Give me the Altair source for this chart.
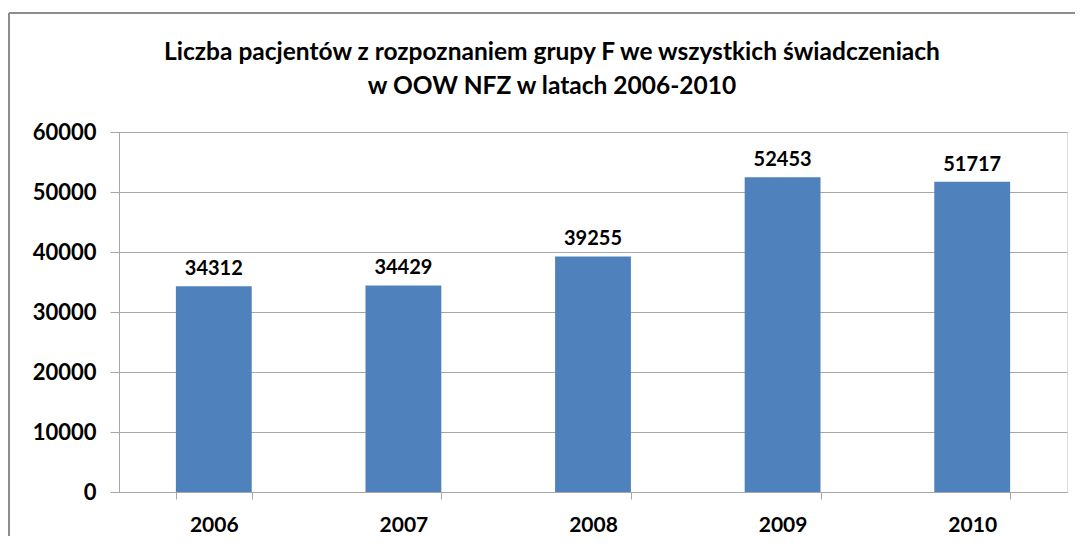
import altair as alt
import pandas as pd

years = ["2006", "2007", "2008", "2009", "2010"]
patients = [34312, 34429, 39255, 52453, 51717]
y_ticks = [0, 10000, 20000, 30000, 40000, 50000, 60000]
title_lines = [
    "Liczba pacjentów z rozpoznaniem grupy F we wszystkich świadczeniach",
    "w OOW NFZ w latach 2006-2010",
]

df = pd.DataFrame({"year": years, "value": patients})

FONT = "Lato"
GRID = "#a6a6a6"

x_enc = alt.X(
    "year:N",
    sort=years,
    scale=alt.Scale(paddingInner=0.6, paddingOuter=0.3),
    axis=alt.Axis(
        title=None,
        labelAngle=0,
        labelFont=FONT,
        labelFontSize=21,
        labelFontWeight="bold",
        labelColor="#000000",
        labelPadding=15,
        tickBand="extent",
        tickSize=7,
        tickColor=GRID,
        domainColor=GRID,
        grid=False,
    ),
)
y_enc = alt.Y(
    "value:Q",
    scale=alt.Scale(domain=[0, 60000], nice=False),
    axis=alt.Axis(
        title=None,
        values=y_ticks,
        format="d",
        labelFont=FONT,
        labelFontSize=22,
        labelFontWeight="bold",
        labelColor="#000000",
        labelPadding=14,
        tickSize=9,
        tickColor=GRID,
        domainColor=GRID,
        gridColor=GRID,
        gridWidth=1.2,
    ),
)

base = alt.Chart(df)
bars = base.mark_bar(color="#4f81bd").encode(x=x_enc, y=y_enc)
labels = base.mark_text(
    baseline="bottom", dy=-7, font=FONT, fontSize=20, fontWeight="bold", color="#000000"
).encode(x=alt.X("year:N", sort=years), y="value:Q", text=alt.Text("value:Q", format="d"))

frame_top = alt.Chart(df).mark_rule(color="#8c8c8c", strokeWidth=2, clip=False).encode(
    x=alt.value(-110), x2=alt.value(1100), y=alt.value(-119)
)
frame_left = alt.Chart(df).mark_rule(color="#8c8c8c", strokeWidth=2, clip=False).encode(
    x=alt.value(-110), y=alt.value(-119), y2=alt.value(500)
)

chart = (
    alt.layer(frame_top, frame_left, bars, labels)
    .properties(
        width=948,
        height=360,
        padding={"left": 111, "top": 124, "right": 8, "bottom": 44},
        autosize=alt.AutoSizeParams(type="none"),
        title=alt.TitleParams(
            text=title_lines,
            font=FONT,
            fontSize=24.5,
            fontWeight="bold",
            color="#000000",
            anchor="middle",
            frame="group",
            dx=-41,
            offset=-87,
            lineHeight=34,
        ),
    )
    .configure_view(stroke=None)
    .configure(background="white")
)

chart.save("out.html", embed_options={"renderer": "svg", "actions": False})
